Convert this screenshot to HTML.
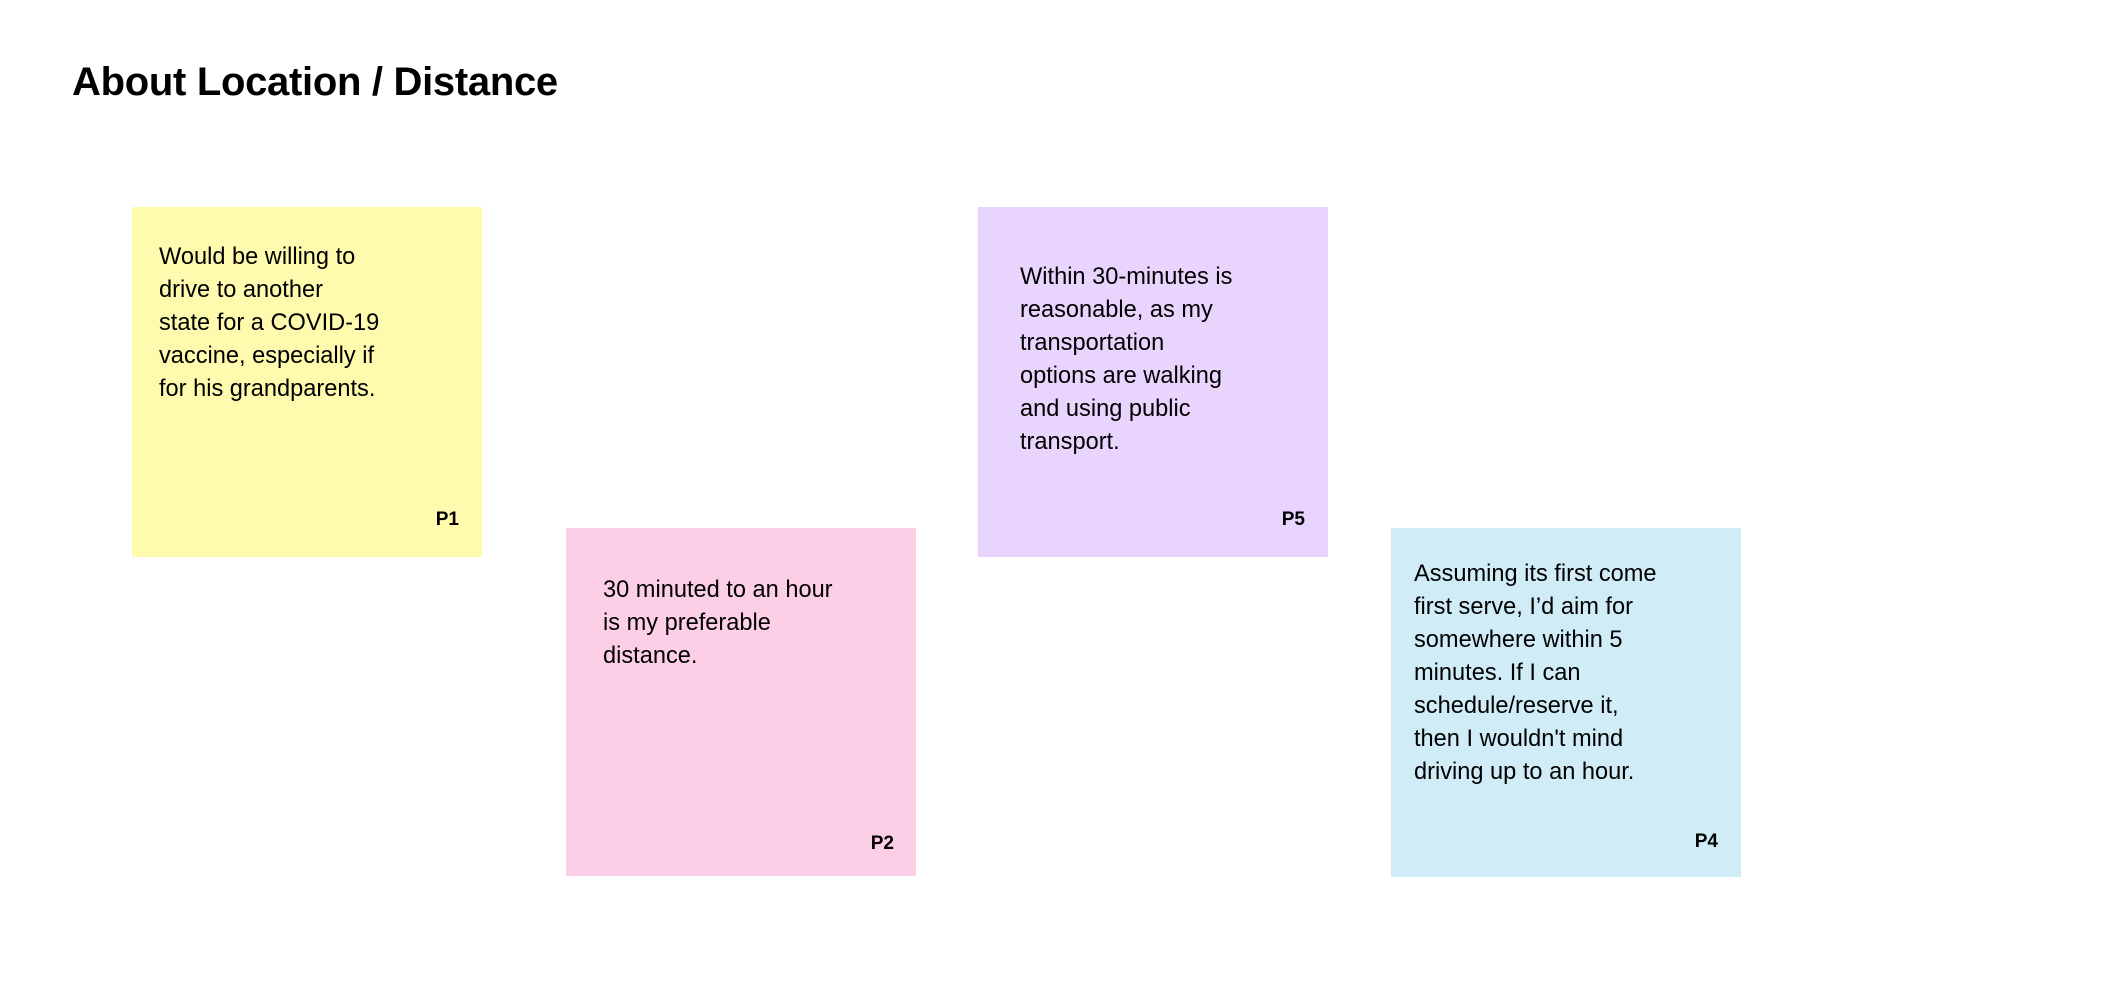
<!DOCTYPE html>
<html><head><meta charset="utf-8"><style>
body{margin:0;width:2119px;height:981px;background:#fff;position:relative;overflow:hidden;font-family:"Liberation Sans",sans-serif;color:#000}
.t{position:absolute;left:72px;top:62px;font-size:40px;line-height:40px;font-weight:bold;white-space:nowrap;letter-spacing:-0.3px}
.n{position:absolute;width:350px;height:350px}
.x{position:absolute;font-size:23.6px;line-height:33px;white-space:nowrap}
.p{position:absolute;right:23px;font-size:19px;line-height:19px;font-weight:bold}
</style></head><body>
<div class="t">About Location / Distance</div>
<div class="n" style="left:132px;top:207px;height:350px;background:#fefaae">
<div class="x" style="left:27px;top:34px">Would be willing to<br>drive to another<br>state for a COVID-19<br>vaccine, especially if<br>for his grandparents.</div>
<div class="p" style="top:303px">P1</div></div>
<div class="n" style="left:566px;top:528px;height:348px;background:#fdcfe6">
<div class="x" style="left:37px;top:46px">30 minuted to an hour<br>is my preferable<br>distance.</div>
<div class="p" style="top:306px;right:22px">P2</div></div>
<div class="n" style="left:978px;top:207px;height:350px;background:#e9d4fd">
<div class="x" style="left:42px;top:54px">Within 30-minutes is<br>reasonable, as my<br>transportation<br>options are walking<br>and using public<br>transport.</div>
<div class="p" style="top:303px">P5</div></div>
<div class="n" style="left:1391px;top:528px;height:349px;background:#d0ecf7">
<div class="x" style="left:23px;top:30px">Assuming its first come<br>first serve, I’d aim for<br>somewhere within 5<br>minutes. If I can<br>schedule/reserve it,<br>then I wouldn't mind<br>driving up to an hour.</div>
<div class="p" style="top:304px">P4</div></div>
</body></html>
